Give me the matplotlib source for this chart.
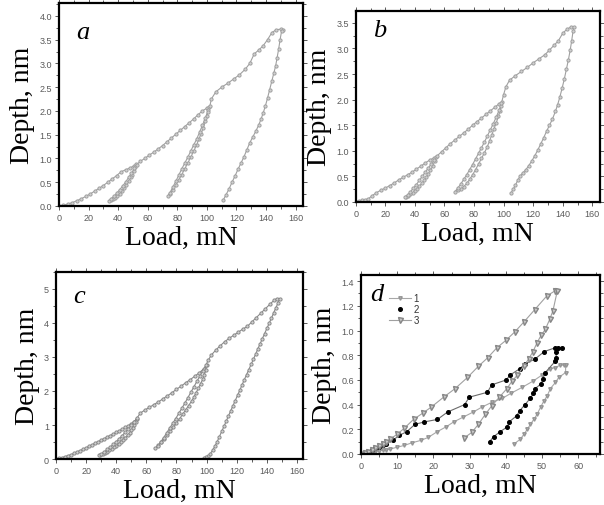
import matplotlib
matplotlib.use("Agg")
import matplotlib.pyplot as plt
from matplotlib.ticker import MultipleLocator
from matplotlib.lines import Line2D

# ---- panel a: load / unload cycles (Load mN, Depth nm) ----
a_load = [0, 3, 6, 9, 12, 15, 18, 21, 24, 27, 30, 33, 36, 39, 42, 45, 48, 51,
          52, 51.5, 50.5, 49.5, 48.5, 47, 45.5, 44, 42.5, 41, 39.5, 38, 36.5, 35, 33.5,
          35, 37, 39, 41, 43, 45, 47, 49, 51, 52.5,
          55, 58, 61, 64, 67, 70, 73, 76, 79, 82, 85, 88, 91, 94, 97, 100, 101.5,
          101, 100, 99, 97.5, 96, 94.5, 93, 91, 89, 87, 85, 83, 81, 79, 77, 75, 73.5,
          75, 77, 79, 81, 83, 85, 87, 89, 91, 93, 95, 97, 99, 100.5, 102,
          103, 106, 110, 114, 118, 122, 126, 129, 132, 135, 138, 141, 144, 147, 150, 151.5,
          150.5, 149.5, 148.5, 147.5, 146.5, 145.3, 144, 142.5, 141, 139.5, 138, 136.5,
          135, 133, 131, 129, 127, 125, 123, 121, 119, 117, 115, 113, 111]
a_depth = [0, 0.02, 0.04, 0.07, 0.11, 0.15, 0.2, 0.25, 0.31, 0.37, 0.43, 0.5, 0.57, 0.64, 0.72, 0.76, 0.8, 0.85,
           0.88, 0.82, 0.74, 0.66, 0.6, 0.52, 0.45, 0.38, 0.32, 0.26, 0.21, 0.17, 0.14, 0.12, 0.1,
           0.15, 0.2, 0.27, 0.34, 0.42, 0.5, 0.6, 0.69, 0.79, 0.87,
           0.94, 1.0, 1.07, 1.13, 1.2, 1.27, 1.35, 1.43, 1.51, 1.59, 1.67, 1.75, 1.83, 1.92, 2.0, 2.06, 2.08,
           2.02, 1.9, 1.78, 1.64, 1.52, 1.4, 1.28, 1.15, 1.02, 0.9, 0.78, 0.66, 0.55, 0.44, 0.34, 0.25, 0.2,
           0.28, 0.4, 0.52, 0.65, 0.78, 0.9, 1.02, 1.15, 1.28, 1.4, 1.55, 1.7, 1.85, 1.98, 2.1,
           2.25, 2.4, 2.5, 2.58, 2.67, 2.76, 2.88, 3.0, 3.2, 3.28, 3.37, 3.5, 3.65, 3.71, 3.72, 3.71,
           3.68, 3.5, 3.3, 3.12, 2.95, 2.8, 2.63, 2.45, 2.27, 2.1, 1.95, 1.82,
           1.7, 1.57, 1.45, 1.33, 1.18, 1.03, 0.9, 0.77, 0.63, 0.5, 0.36, 0.24, 0.12]

# ---- panel b ----
b_load = [0, 2, 4, 6, 8.5, 11, 14, 17, 20, 23, 26, 29, 32, 35, 38, 41, 44, 47, 50, 53, 54.5,
          53.5, 52, 50.5, 49, 47.5, 46, 44.5, 43, 41.5, 40, 38.5, 37, 35.5, 34, 33,
          35, 37, 39, 41, 43, 45, 47, 49, 51, 53, 55,
          58, 61, 64, 67, 70, 73, 76, 79, 82, 85, 88, 91, 94, 97, 99,
          98.5, 97.5, 96.5, 95, 93.5, 92, 90.5, 89, 87, 85, 83, 81, 79, 77, 75, 73, 71, 69, 67,
          69, 71, 73, 75, 77, 79, 81, 83, 85, 87, 89, 91, 93, 95, 97, 98.5, 100,
          101.5, 104, 108, 112, 116, 120, 124, 128, 131, 134, 137, 140, 143, 145.5, 147.5,
          147, 146, 145, 143.8, 142.5, 141, 139.5, 138, 136.5, 135, 133, 131, 129, 127, 125,
          123, 121, 119, 117, 115, 113, 111, 109.5, 108, 106.5, 105]
b_depth = [0, 0.02, 0.03, 0.04, 0.06, 0.12, 0.18, 0.23, 0.27, 0.32, 0.37, 0.43, 0.48, 0.53, 0.58, 0.64, 0.7, 0.76, 0.82, 0.86, 0.88,
           0.8, 0.7, 0.62, 0.55, 0.48, 0.42, 0.36, 0.31, 0.26, 0.22, 0.18, 0.15, 0.12, 0.1, 0.09,
           0.14, 0.2, 0.27, 0.34, 0.42, 0.5, 0.58, 0.66, 0.74, 0.82, 0.9,
           0.98, 1.06, 1.14, 1.21, 1.28, 1.35, 1.42, 1.5, 1.57, 1.64, 1.71, 1.78, 1.85, 1.92, 1.95,
           1.88, 1.78, 1.67, 1.55, 1.43, 1.31, 1.2, 1.08, 0.96, 0.85, 0.74, 0.63, 0.53, 0.44, 0.36, 0.3, 0.26, 0.23, 0.2,
           0.27, 0.35, 0.44, 0.53, 0.63, 0.73, 0.84, 0.95, 1.06, 1.17, 1.29, 1.41, 1.53, 1.66, 1.8, 1.93, 2.1,
           2.25, 2.38, 2.47, 2.55, 2.63, 2.72, 2.8, 2.88, 2.97, 3.06, 3.15, 3.3, 3.38, 3.42, 3.42,
           3.35, 3.15, 2.97, 2.78, 2.6, 2.4, 2.22, 2.05, 1.9, 1.77, 1.62, 1.5, 1.38, 1.25, 1.13,
           1.01, 0.9, 0.8, 0.71, 0.63, 0.57, 0.5, 0.42, 0.33, 0.25, 0.18]

# ---- panel c ----
c_load = [0, 2, 4, 6, 8, 10, 12, 14, 16, 18, 20, 22, 24, 26, 28, 30, 32, 34, 36, 38, 40, 42, 44, 46, 48, 50, 52, 53.5,
          53, 52, 51, 50, 49, 47.5, 46, 44.5, 43, 41.5, 40, 38.5, 37, 35.5, 34, 32.5, 31, 29.5, 28.5,
          30, 32, 34, 36, 38, 40, 42, 44, 46, 48, 50, 52, 54,
          56, 59, 62, 65, 68, 71, 74, 77, 80, 83, 86, 89, 92, 95, 98, 100,
          99.5, 98.5, 97.5, 96, 94.5, 93, 91.5, 90, 88, 86, 84, 82, 80, 78, 76, 74, 72, 70, 68, 66,
          67.5, 69.5, 71.5, 73.5, 75.5, 77.5, 79.5, 81.5, 83.5, 85.5, 87.5, 89.5, 91.5, 93.5, 95.5, 97.5, 99.5, 101,
          103, 106, 109, 112, 115, 118, 121, 124, 127, 130, 133, 136, 139, 142, 145, 147, 148.5,
          147.5, 146, 144.5, 143, 141.5, 140, 138.5, 137, 135.5, 134, 132.5, 131, 129.5, 128, 126.5,
          125, 123.5, 122, 120.5, 119, 117.5, 116, 114.5, 113, 111.5, 110, 108.5, 107, 105.5,
          104, 102.5, 101, 99.5, 98.5]
c_depth = [0, 0.02, 0.04, 0.07, 0.1, 0.13, 0.17, 0.21, 0.25, 0.29, 0.33, 0.38, 0.42, 0.47, 0.51, 0.56, 0.6, 0.65, 0.69, 0.74, 0.78, 0.83, 0.88, 0.93, 0.98, 1.04, 1.1, 1.18,
           1.1, 1.0, 0.92, 0.84, 0.77, 0.7, 0.63, 0.56, 0.5, 0.44, 0.39, 0.34, 0.3, 0.26, 0.22, 0.19, 0.16, 0.13, 0.11,
           0.15, 0.21, 0.28, 0.35, 0.43, 0.51, 0.6, 0.69, 0.79, 0.89, 0.99, 1.1, 1.22,
           1.35, 1.44, 1.52, 1.6, 1.68, 1.77, 1.86, 1.95, 2.05, 2.14, 2.24, 2.33, 2.43, 2.53, 2.65, 2.75,
           2.62, 2.48, 2.35, 2.22, 2.08, 1.95, 1.82, 1.7, 1.57, 1.44, 1.31, 1.18, 1.05, 0.93, 0.81, 0.7, 0.6, 0.5, 0.41, 0.32,
           0.38, 0.5, 0.63, 0.77, 0.91, 1.05, 1.19, 1.34, 1.49, 1.64, 1.8, 1.96, 2.12, 2.28, 2.44, 2.6, 2.76, 2.9,
           3.05, 3.2, 3.33, 3.45, 3.55, 3.64, 3.73, 3.82, 3.9, 4.03, 4.16, 4.29, 4.42, 4.55, 4.68, 4.72, 4.72,
           4.6, 4.45, 4.3, 4.14, 3.99, 3.84, 3.69, 3.54, 3.39, 3.24, 3.08, 2.93, 2.78, 2.63, 2.48,
           2.33, 2.18, 2.02, 1.87, 1.72, 1.57, 1.42, 1.27, 1.11, 0.96, 0.81, 0.66, 0.51, 0.38,
           0.26, 0.16, 0.09, 0.05, 0.03]

# ---- panel d: three samples ----
d1_load = [0, 1, 2, 3, 4, 5, 6, 7, 8, 10, 12, 14, 16.5, 18.6, 21, 23.5, 25.6, 28.3, 31, 33.4, 36.2, 39,
           41.3, 44.5, 47.5, 50, 52.3, 53.7, 55, 56, 56.5,
           56.5, 54.6, 53.7, 52.3, 51.4, 50.5, 49.6, 48.6, 47.7, 46.8, 45.9, 45, 44, 42.2]
d1_depth = [0, 0.005, 0.01, 0.015, 0.02, 0.025, 0.03, 0.035, 0.04, 0.055, 0.07, 0.09, 0.11, 0.135, 0.18, 0.22, 0.26, 0.3, 0.34, 0.38, 0.42, 0.45,
            0.49, 0.54, 0.59, 0.64, 0.69, 0.7, 0.72, 0.72, 0.72,
            0.66, 0.62, 0.58, 0.53, 0.47, 0.43, 0.38, 0.32, 0.28, 0.24, 0.2, 0.16, 0.12, 0.08]

d2_load = [0, 1, 2, 3, 4, 5, 6, 7, 8.9, 10.5, 12.6, 14.9, 17.5, 21.1, 23.9, 28.6, 29.9, 34.9, 36.1, 40.1,
           41.2, 43.8, 45.3, 48.1, 50.6, 53.6, 54.5, 55.5,
           53.9, 53.9, 53.6, 50.9, 50.2, 49.8, 48.1, 47.6, 46.7, 45.3, 43.8, 43.0, 40.9, 40.4, 38.4, 36.6, 35.5]
d2_depth = [0, 0.01, 0.02, 0.03, 0.045, 0.06, 0.07, 0.085, 0.113, 0.15, 0.18, 0.24, 0.26, 0.28, 0.34, 0.4, 0.46, 0.5, 0.56, 0.6,
            0.64, 0.69, 0.73, 0.77, 0.83, 0.86, 0.86, 0.86,
            0.83, 0.78, 0.75, 0.66, 0.61, 0.57, 0.53, 0.49, 0.45, 0.4, 0.35, 0.31, 0.26, 0.22, 0.18, 0.14, 0.1]

d3_load = [0, 1, 2, 3, 4, 5, 6, 7, 8, 10, 12, 14.5, 17, 19.4, 22.8, 26, 29.4, 32.4, 35, 37.5, 40, 42.5, 45, 48, 51.3,
           53.5, 54.2,
           53, 52.1, 50.9, 49.7, 48.6, 47.5, 46.3, 44.9, 43.2, 41.7, 40.3, 38.2, 36.1, 34.3, 32.4, 30.6, 28.5]
d3_depth = [0, 0.01, 0.02, 0.03, 0.05, 0.065, 0.08, 0.1, 0.12, 0.16, 0.21, 0.28, 0.33, 0.38, 0.46, 0.53, 0.62, 0.71, 0.78, 0.86, 0.92, 0.99, 1.07, 1.17, 1.28,
            1.32, 1.32,
            1.16, 1.09, 1.01, 0.96, 0.9, 0.83, 0.77, 0.71, 0.64, 0.59, 0.53, 0.46, 0.39, 0.32, 0.24, 0.175, 0.13]

plt.rcParams['font.family'] = ['Liberation Sans', 'DejaVu Sans']

fig = plt.figure(figsize=(6.04, 5.06), dpi=100)

TICK_GRAY = '#5a5a5a'
MARK_GRAY = '#a0a0a0'


def style_axes(ax, xlim, ylim, xmaj, xmin, ymaj, ymin, yfmt):
    ax.set_xlim(*xlim)
    ax.set_ylim(*ylim)
    ax.xaxis.set_major_locator(MultipleLocator(xmaj))
    ax.xaxis.set_minor_locator(MultipleLocator(xmin))
    ax.yaxis.set_major_locator(MultipleLocator(ymaj))
    ax.yaxis.set_minor_locator(MultipleLocator(ymin))
    ax.yaxis.set_major_formatter(yfmt)
    for s in ax.spines.values():
        s.set_linewidth(1.6)
    ax.tick_params(which='both', direction='out', top=True, right=True,
                   color=TICK_GRAY, width=0.7, labelsize=6.5, labelcolor=TICK_GRAY, pad=2)
    ax.tick_params(which='major', length=3)
    ax.tick_params(which='minor', length=2)
    ax.set_xlabel('Load, mN', family='Liberation Serif', fontsize=20, labelpad=2)
    ax.set_ylabel('Depth, nm', family='Liberation Serif', fontsize=20, labelpad=3)


def cycle(ax, x, y, color=MARK_GRAY):
    ax.plot(x, y, '-', color=color, lw=0.8, marker='o', ms=2.3,
            mfc='#d0d0d0', mec=color, mew=0.7)


ax_a = fig.add_axes([0.0977, 0.591, 0.404, 0.401])
cycle(ax_a, a_load, a_depth)
style_axes(ax_a, (0, 165), (0, 4.27), 20, 10, 0.5, 0.25, '{x:.1f}')
ax_a.text(0.07, 0.83, 'a', transform=ax_a.transAxes, family='Liberation Serif',
          style='italic', fontsize=19)

ax_b = fig.add_axes([0.589, 0.599, 0.404, 0.377])
cycle(ax_b, b_load, b_depth)
style_axes(ax_b, (0, 165), (0, 3.73), 20, 10, 0.5, 0.25, '{x:.1f}')
ax_b.text(0.07, 0.87, 'b', transform=ax_b.transAxes, family='Liberation Serif',
          style='italic', fontsize=19)

ax_c = fig.add_axes([0.0927, 0.0909, 0.409, 0.3696])
cycle(ax_c, c_load, c_depth, color='#8a8a8a')
style_axes(ax_c, (0, 164), (0, 5.5), 20, 10, 1, 0.5, '{x:.0f}')
ax_c.text(0.07, 0.84, 'c', transform=ax_c.transAxes, family='Liberation Serif',
          style='italic', fontsize=19)

ax_d = fig.add_axes([0.5977, 0.1008, 0.3957, 0.3538])
ax_d.plot(d1_load, d1_depth, '-', color='#a8a8a8', lw=0.8, marker='v', ms=2.5,
          mfc='#b8b8b8', mec='#959595')
ax_d.plot(d2_load, d2_depth, '-', color='#6a6a6a', lw=0.8, marker='o', ms=2.6,
          mfc='black', mec='black')
ax_d.plot(d3_load, d3_depth, '-', color='#a0a0a0', lw=0.8, marker='v', ms=3.6,
          mfc='#c8c8c8', mec='#858585')
style_axes(ax_d, (0, 66), (0, 1.45), 10, 5, 0.2, 0.1, '{x:.1f}')
ax_d.text(0.04, 0.86, 'd', transform=ax_d.transAxes, family='Liberation Serif',
          style='italic', fontsize=19)
handles = [
    Line2D([], [], color='#a8a8a8', lw=0.8, marker='v', ms=2.5, mfc='#b8b8b8', mec='#959595'),
    Line2D([], [], ls='none', marker='o', ms=2.6, mfc='black', mec='black'),
    Line2D([], [], color='#a0a0a0', lw=0.8, marker='v', ms=3.6, mfc='#c8c8c8', mec='#858585'),
]
ax_d.legend(handles, ['1', '2', '3'], loc='upper left', bbox_to_anchor=(0.09, 0.935),
            frameon=False, fontsize=7, handlelength=2.2, handletextpad=0.3,
            labelspacing=0.1, borderpad=0.2, labelcolor='#333333')

fig.savefig('out.png', dpi=100)
